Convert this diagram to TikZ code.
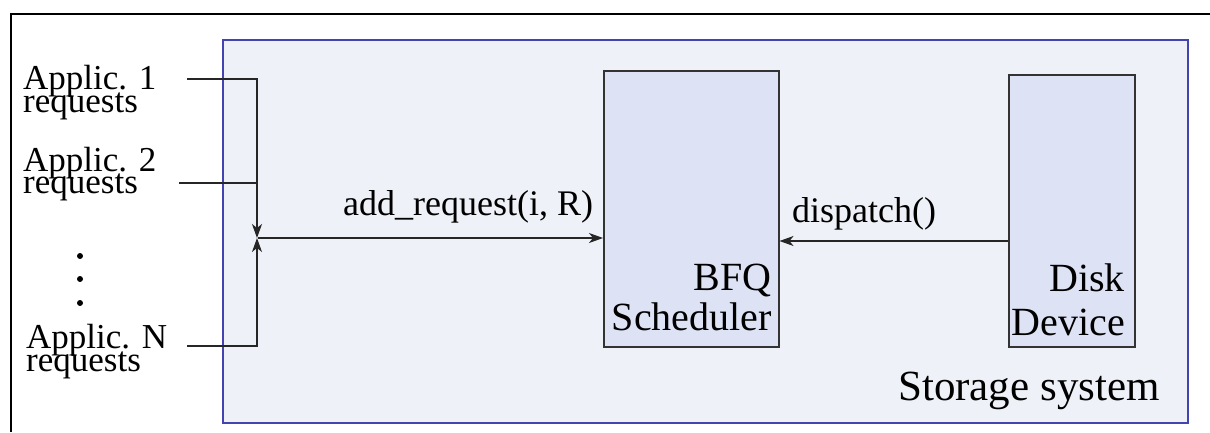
\documentclass[tikz,border=0pt]{standalone}
\usepackage{fontspec}
\setmainfont{Liberation Serif}
\usetikzlibrary{arrows.meta}
\definecolor{sysfill}{HTML}{EEF1F7}
\definecolor{sysdraw}{HTML}{4444B0}
\definecolor{boxfill}{HTML}{DDE2F5}
\definecolor{boxdraw}{HTML}{333333}
\tikzset{
  lbl/.style={inner sep=0pt, anchor=base west},
  rlbl/.style={inner sep=0pt, anchor=base east},
  appfont/.style={font=\fontsize{35}{35}\selectfont},
  conn/.style={line width=1.3pt, draw=black!85},
  tip/.style={-{Stealth[length=14pt,width=10pt,inset=4pt]}},
  blk/.style={draw=boxdraw, fill=boxfill, line width=1.5pt, anchor=north west, inner sep=0pt},
}
\begin{document}
\begin{tikzpicture}[x=1pt,y=-1pt]
\useasboundingbox (0,0) rectangle (1210,432);
\draw[line width=1.8pt] (11,432) -- (11,14) -- (1210,14);
\node[draw=sysdraw, fill=sysfill, line width=2pt, minimum width=965pt, minimum height=383pt, anchor=north west, inner sep=0pt] (sys) at (222,39) {};
\node[lbl, font=\fontsize{43}{43}\selectfont] (st) at (898,400) {Storage system};

\node[blk, minimum width=175pt, minimum height=276pt] (bfq) at (603,70) {};
\node[rlbl, font=\fontsize{40}{40}\selectfont] (bfq1) at (772,290) {BFQ};
\node[rlbl, font=\fontsize{40}{40}\selectfont] (bfq2) at (772,330) {Scheduler};

\node[blk, minimum width=126pt, minimum height=272pt] (disk) at (1008,74) {};
\node[rlbl, font=\fontsize{40}{40}\selectfont] (disk1) at (1125,291) {Disk};
\node[rlbl, font=\fontsize{40}{40}\selectfont] (disk2) at (1125,335) {Device};

\node[lbl, appfont] (a1) at (23,89) {Applic. 1};
\node[lbl, appfont] (a1r) at (23,112) {requests};
\node[lbl, appfont] (a2) at (23,171) {Applic. 2};
\node[lbl, appfont] (a2r) at (23,193) {requests};
\node[lbl, appfont] (an) at (26,348) {Applic. N};
\node[lbl, appfont] (anr) at (26,371) {requests};

\fill (80,256) circle (3pt);
\fill (80,279) circle (3pt);
\fill (80,303) circle (3pt);

\coordinate (c1) at (187,79);
\coordinate (c2) at (179,183);
\coordinate (cn) at (187,346);
\coordinate (j2) at (257,183);
\coordinate (m) at (257,238);
\coordinate (dy) at (900,241);

\draw[conn,tip] (c1) -| (m);
\draw[conn] (c2) -- (j2);
\draw[conn,tip] (cn) -| (m);
\draw[conn,tip] ([xshift=1pt]m) -- (m -| bfq.west);
\draw[conn,tip] (dy -| disk.west) -- (dy -| bfq.east);

\node[lbl, font=\fontsize{36}{36}\selectfont] (add) at (343,215) {add\_request(i, R)};
\node[lbl, font=\fontsize{36}{36}\selectfont] (disp) at (792,222) {dispatch()};
\end{tikzpicture}
\end{document}
